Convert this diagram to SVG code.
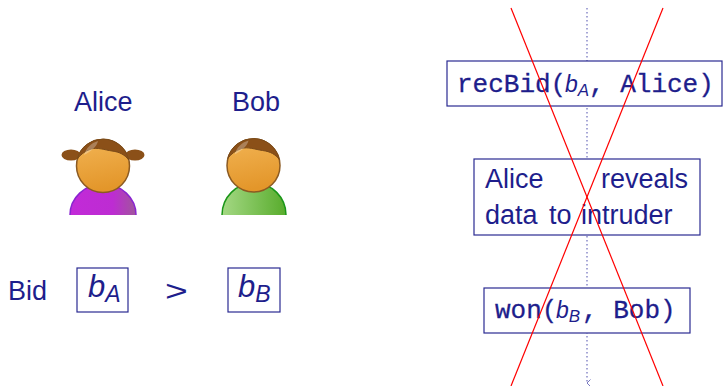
<svg xmlns="http://www.w3.org/2000/svg" width="724" height="386" viewBox="0 0 724 386">
  <defs>
    <linearGradient id="headFill" x1="0" y1="0" x2="0.2" y2="1">
      <stop offset="0" stop-color="#f2b454"/>
      <stop offset="1" stop-color="#e3962a"/>
    </linearGradient>
    <linearGradient id="aliceBody" x1="0" y1="0" x2="1" y2="0">
      <stop offset="0" stop-color="#c22ad8"/>
      <stop offset="0.65" stop-color="#bd2cd2"/>
      <stop offset="1" stop-color="#a0569c"/>
    </linearGradient>
    <linearGradient id="bobBody" x1="0" y1="0" x2="1" y2="0">
      <stop offset="0" stop-color="#a4d884"/>
      <stop offset="1" stop-color="#58ac2c"/>
    </linearGradient>
    <!-- shared head with hair -->
    <g id="head">
      <circle cx="0" cy="0" r="26.5" fill="url(#headFill)" stroke="#8b5a22" stroke-width="1.5"/>
      <path d="M -25.8,-7 A 26.5 26.5 0 0 1 25.8,-6 C 22,-11 17,-14 9,-15 C 2,-16 -6,-19 -12,-17 C -18,-15 -23,-11 -25.8,-7 Z" fill="#8b5018" stroke="#7a4a18" stroke-width="1"/>
      <path d="M -19,-11 C -17,-18 -12,-23 -5,-25 C -6,-20 -10,-16 -19,-11 Z" fill="#ffffff" fill-opacity="0.28"/>
    </g>
    <marker id="tip" viewBox="0 0 8 8" refX="4" refY="7" markerWidth="8" markerHeight="8" orient="auto-start-reverse" markerUnits="userSpaceOnUse">
      <path d="M 0.5,3.5 L 4,7 L 7.5,3.5" fill="none" stroke="#7878c0" stroke-width="1"/>
    </marker>
  </defs>
  <style>
    .lbl { font-family: "Liberation Sans", "DejaVu Sans", sans-serif; font-size: 27px; fill: #1e1e8c; }
    .math { font-family: "Liberation Sans", "DejaVu Sans", sans-serif; font-style: italic; fill: #1e1e8c; }
    .mono { font-family: "Liberation Mono", "DejaVu Sans Mono", monospace; font-size: 26px; fill: #1e1e8c; stroke: #1e1e8c; stroke-width: 0.3; }
    .box { fill: #ffffff; stroke: #2a2a92; stroke-width: 1.2; }
    .cross { stroke: #ff0000; stroke-width: 1.2; fill: none; }
  </style>

  <rect width="724" height="386" fill="#ffffff"/>

  <!-- Alice -->
  <g id="alice">
    <text class="lbl" x="74" y="111">Alice</text>
    <ellipse cx="71" cy="155" rx="9.5" ry="5.5" fill="#8b5018"/>
    <ellipse cx="135" cy="155" rx="9.5" ry="5.5" fill="#8b5018"/>
    <path d="M 70,215 A 33 31 0 0 1 136,215" fill="url(#aliceBody)" stroke="#8a24d0" stroke-width="1.5"/>
    <use href="#head" x="103" y="166"/>
  </g>

  <!-- Bob -->
  <g id="bob">
    <text class="lbl" x="232" y="111">Bob</text>
    <path d="M 222,215 A 32 32 0 0 1 286,215" fill="url(#bobBody)" stroke="#1a9618" stroke-width="1.5"/>
    <use href="#head" x="253.5" y="165.5"/>
  </g>

  <!-- bids -->
  <g id="bids">
    <text class="lbl" x="8" y="300">Bid</text>
    <rect class="box" x="77" y="268" width="51" height="44"/>
    <text class="math" x="88" y="297" font-size="31">b<tspan font-size="23" dy="5">A</tspan></text>
    <text class="lbl" transform="translate(165 301) scale(1.3 1)" style="font-size:30px">&gt;</text>
    <rect class="box" x="228" y="268" width="52" height="44"/>
    <text class="math" x="238" y="297" font-size="31">b<tspan font-size="23" dy="5">B</tspan></text>
  </g>

  <!-- message sequence -->
  <g id="connectors">
    <line x1="587" y1="8" x2="587" y2="383" stroke="#7878c0" stroke-width="1.3" stroke-dasharray="1.5 2.5" marker-end="url(#tip)"/>
  </g>

  <g id="recBid">
    <rect class="box" x="447" y="61" width="275" height="45"/>
    <text class="mono" x="457" y="92">recBid(</text>
    <text class="math" x="565" y="92" font-size="23">b<tspan font-size="17" dy="4">A</tspan></text>
    <text class="mono" x="589" y="92">, Alice)</text>
  </g>

  <g id="reveal">
    <rect class="box" x="474" y="159" width="226" height="76"/>
    <text class="lbl" x="485" y="188">Alice</text>
    <text class="lbl" x="688" y="188" text-anchor="end">reveals</text>
    <text class="lbl" y="224"><tspan x="485">data</tspan><tspan x="549">to</tspan><tspan x="581">intruder</tspan></text>
  </g>

  <g id="won">
    <rect class="box" x="484" y="288" width="206" height="45"/>
    <text class="mono" x="495" y="318">won(</text>
    <text class="math" x="556" y="318" font-size="23">b<tspan font-size="17" dy="4">B</tspan></text>
    <text class="mono" x="582" y="318">, Bob)</text>
  </g>

  <!-- crossed out -->
  <g id="cross">
    <line class="cross" x1="511" y1="8" x2="663" y2="386"/>
    <line class="cross" x1="663" y1="8" x2="511" y2="386"/>
  </g>
</svg>
